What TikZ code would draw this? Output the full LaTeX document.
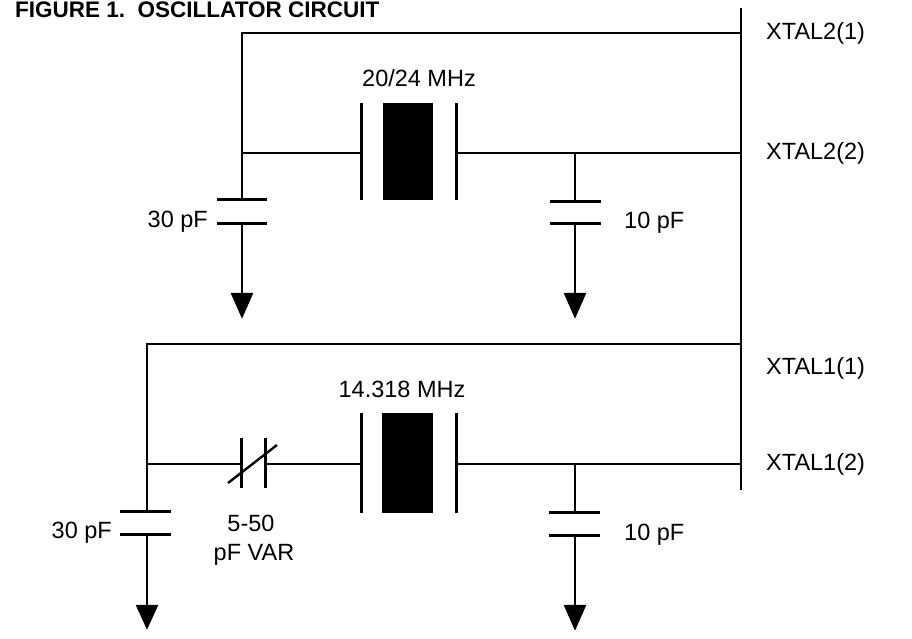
\documentclass[tikz,border=0pt]{standalone}
\usepackage{fontspec}
\setmainfont{Liberation Sans}
\begin{document}
\begin{tikzpicture}[x=1pt,y=-1pt,
  wire/.style={line width=2.4pt},
  plate/.style={line width=3pt},
  gnd/.style={fill=black,draw=black,line width=0.5pt,line join=round},
  xtal/.style={fill=black,draw=none},
  lbl/.style={font=\fontsize{23.5}{27}\selectfont,inner sep=0pt},
  ttl/.style={font=\fontsize{22.5}{26}\selectfont\bfseries,inner sep=0pt}]
\useasboundingbox (0,0) rectangle (912,639);

\node[ttl,anchor=base west] (title) at (15,17.5) {FIGURE 1.\ \ OSCILLATOR CIRCUIT};

% bus
\coordinate (busT) at (741,8);
\coordinate (busB) at (741,490);
\draw[wire] (busT) -- (busB);

% ---------- top circuit ----------
\coordinate (x21) at (741,33);
\coordinate (x22) at (741,153);
\coordinate (tlc) at (242,33);
\coordinate (tlj) at (242,153);
\coordinate (tlp1) at (242,199);
\coordinate (tlp2) at (242,223);
\coordinate (tlg) at (242,293);
\coordinate (xa1) at (361,153);
\coordinate (xa2) at (456,153);
\coordinate (trj) at (575,153);
\coordinate (trp1) at (575,201);
\coordinate (trp2) at (575,223);
\coordinate (trg) at (575,293);

\draw[wire] (x21) -- (tlc) -- (tlp1);
\draw[plate] (217,199) -- (267,199);
\draw[plate] (217,223) -- (267,223);
\draw[wire] (tlp2) -- (tlg);
\draw[gnd] (231,293) -- (253,293) -- (242,318) -- cycle;

\draw[wire] (tlj) -- (xa1);
\draw[plate] (361,103) -- (361,200);
\fill[xtal] (383,103) rectangle (433,200);
\draw[plate] (456,103) -- (456,200);
\draw[wire] (xa2) -- (x22);

\draw[wire] (trj) -- (trp1);
\draw[plate] (550,201) -- (601,201);
\draw[plate] (550,223) -- (601,223);
\draw[wire] (trp2) -- (trg);
\draw[gnd] (564,293) -- (586,293) -- (575,318) -- cycle;

\node[lbl,anchor=north] (f2) at (419,69) {20/24 MHz};
\node[lbl,anchor=east] (c1) at (208,222) {30 pF};
\node[lbl,anchor=west] (c2) at (624,223) {10 pF};
\node[lbl,anchor=west] (l21) at (766,33) {XTAL2(1)};
\node[lbl,anchor=west] (l22) at (766,153) {XTAL2(2)};

% ---------- bottom circuit ----------
\coordinate (x11) at (741,344);
\coordinate (x12) at (741,464);
\coordinate (blc) at (147,344);
\coordinate (blj) at (147,464);
\coordinate (blp1) at (147,511);
\coordinate (blp2) at (147,534);
\coordinate (blg) at (147,605);
\coordinate (v1) at (241,464);
\coordinate (v2) at (265,464);
\coordinate (xb1) at (361,464);
\coordinate (xb2) at (456,464);
\coordinate (brj) at (575,464);
\coordinate (brp1) at (575,512);
\coordinate (brp2) at (575,535);
\coordinate (brg) at (575,605);

\draw[wire] (x11) -- (blc) -- (blp1);
\draw[plate] (120,511) -- (171,511);
\draw[plate] (120,534) -- (171,534);
\draw[wire] (blp2) -- (blg);
\draw[gnd] (136,605) -- (158,605) -- (147,629) -- cycle;

\draw[wire] (blj) -- (v1);
\draw[plate] (241,438) -- (241,488);
\draw[plate] (265,438) -- (265,488);
\draw[wire] (228,483) -- (277,445);
\draw[wire] (v2) -- (xb1);
\draw[plate] (361,413) -- (361,513);
\fill[xtal] (382,413) rectangle (433,513);
\draw[plate] (456,413) -- (456,513);
\draw[wire] (xb2) -- (x12);

\draw[wire] (brj) -- (brp1);
\draw[plate] (549,512) -- (600,512);
\draw[plate] (549,535) -- (600,535);
\draw[wire] (brp2) -- (brg);
\draw[gnd] (564,605) -- (586,605) -- (575,630) -- cycle;

\node[lbl,anchor=north] (f1) at (402,381) {14.318 MHz};
\node[lbl] (vc1) at (251,523) {5-50};
\node[lbl] (vc2) at (254,555) {pF VAR};
\node[lbl,anchor=east] (c3) at (112,533) {30 pF};
\node[lbl,anchor=west] (c4) at (624,535) {10 pF};
\node[lbl,anchor=west] (l11) at (766,368) {XTAL1(1)};
\node[lbl,anchor=west] (l12) at (766,464) {XTAL1(2)};
\end{tikzpicture}
\end{document}
